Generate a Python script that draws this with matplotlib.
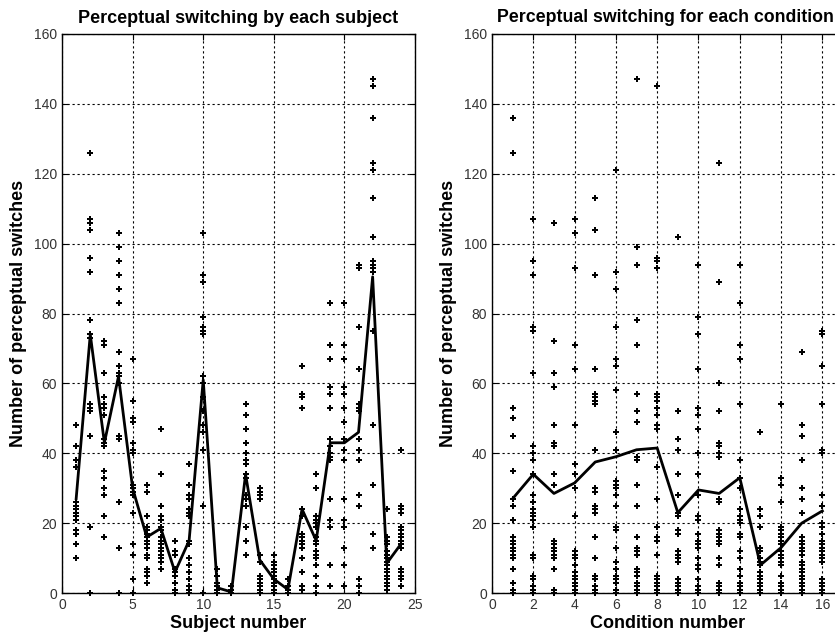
import matplotlib
matplotlib.use('Agg')
import matplotlib.pyplot as plt

# per-subject switch counts (16 conditions each)
SUBJECT_VALUES = [
    [48, 42, 38, 36, 26, 25, 24, 23, 22, 22, 21, 18, 17, 17, 14, 10],
    [126, 107, 106, 104, 96, 92, 78, 74, 73, 54, 53, 52, 45, 19, 0, 74],
    [72, 71, 63, 56, 54, 53, 51, 44, 43, 42, 35, 33, 30, 28, 22, 16],
    [103, 99, 95, 91, 87, 83, 69, 65, 63, 62, 60, 45, 44, 26, 13, 0],
    [67, 55, 50, 49, 43, 41, 40, 31, 30, 29, 28, 23, 14, 11, 4, 0],
    [31, 29, 22, 19, 18, 17, 16, 15, 14, 13, 11, 10, 7, 6, 5, 3],
    [47, 34, 25, 22, 21, 19, 18, 16, 15, 14, 13, 12, 11, 10, 9, 7],
    [15, 12, 12, 11, 7, 6, 5, 3, 3, 1, 1, 0, 0, 0, 0, 0],
    [37, 31, 28, 27, 24, 23, 22, 15, 14, 10, 8, 6, 4, 2, 1, 0],
    [103, 91, 89, 79, 76, 75, 74, 62, 60, 56, 52, 48, 46, 41, 25, 0],
    [7, 5, 3, 3, 2, 2, 1, 1, 1, 0, 0, 0, 0, 0, 0, 0],
    [2, 1, 1, 0, 0, 0, 0, 0, 0, 0, 0, 0, 0, 0, 0, 0],
    [54, 51, 47, 43, 40, 40, 38, 37, 34, 33, 28, 27, 25, 19, 15, 11],
    [30, 29, 28, 27, 11, 9, 9, 5, 4, 4, 3, 3, 2, 1, 0, 0],
    [11, 9, 8, 7, 6, 6, 5, 4, 3, 2, 2, 1, 1, 0, 0, 0],
    [4, 2, 1, 1, 0, 0, 0, 0, 0, 0, 0, 0, 0, 0, 0, 0],
    [65, 57, 56, 53, 24, 22, 17, 16, 15, 14, 13, 13, 10, 6, 2, 1],
    [34, 30, 22, 21, 20, 19, 16, 15, 14, 12, 11, 10, 8, 5, 2, 0],
    [83, 71, 67, 59, 57, 53, 44, 42, 40, 39, 38, 27, 21, 19, 8, 2],
    [83, 71, 67, 59, 57, 53, 49, 44, 41, 38, 27, 21, 19, 13, 8, 2],
    [94, 93, 76, 64, 54, 53, 52, 44, 41, 38, 28, 25, 4, 2, 0, 93],
    [147, 145, 136, 123, 121, 113, 102, 95, 94, 93, 92, 75, 48, 31, 17, 13],
    [24, 16, 15, 14, 12, 11, 10, 9, 8, 7, 6, 5, 4, 3, 2, 1],
    [41, 25, 24, 23, 19, 18, 17, 16, 15, 14, 13, 7, 6, 5, 4, 2],
]
SUBJECT_MEANS = [27, 74, 43, 62, 30, 16, 18.5, 6, 15, 61, 1.5, 0.3,
                 34, 9.5, 4, 1, 24, 15, 43, 43, 46, 90.5, 8.5, 14]

# per-condition switch counts (24 subjects each)
CONDITION_VALUES = [
    [136, 126, 53, 50, 45, 35, 27, 25, 21, 16, 16, 15, 14, 14, 13, 12, 12, 11, 10, 7, 3, 1, 0, 0],
    [107, 95, 91, 76, 75, 63, 42, 40, 38, 34, 28, 26, 24, 23, 22, 21, 19, 11, 10, 5, 4, 2, 1, 0],
    [106, 72, 63, 59, 48, 43, 42, 34, 31, 15, 15, 14, 14, 13, 13, 12, 11, 11, 10, 7, 1, 0, 0, 0],
    [107, 103, 93, 71, 64, 48, 37, 34, 30, 22, 12, 11, 10, 8, 6, 6, 5, 4, 3, 2, 1, 1, 0, 0],
    [113, 104, 91, 64, 57, 56, 55, 54, 41, 30, 29, 25, 24, 23, 16, 10, 5, 4, 2, 2, 1, 1, 0, 0],
    [121, 92, 87, 76, 67, 65, 58, 46, 41, 32, 31, 30, 28, 25, 19, 18, 13, 9, 7, 5, 4, 3, 1, 0],
    [147, 99, 94, 78, 71, 57, 52, 49, 39, 38, 31, 25, 16, 13, 12, 11, 7, 6, 5, 3, 2, 1, 0, 0],
    [145, 96, 95, 93, 57, 56, 55, 53, 51, 48, 47, 36, 27, 19, 16, 15, 11, 5, 4, 3, 2, 1, 0, 0],
    [102, 52, 44, 41, 34, 28, 23, 22, 18, 17, 17, 12, 11, 10, 9, 4, 3, 2, 1, 0, 0, 0, 0, 0],
    [94, 79, 74, 64, 53, 51, 47, 40, 34, 28, 22, 21, 17, 15, 14, 13, 10, 8, 7, 4, 2, 1, 0, 0],
    [123, 89, 60, 52, 43, 42, 40, 39, 27, 26, 18, 17, 16, 15, 14, 10, 8, 3, 2, 2, 1, 1, 0, 0],
    [94, 83, 71, 67, 54, 38, 33, 30, 24, 22, 21, 20, 17, 16, 12, 10, 7, 5, 3, 2, 1, 0, 0, 0],
    [46, 24, 22, 19, 13, 12, 10, 9, 8, 6, 5, 4, 3, 2, 2, 1, 1, 1, 0, 0, 0, 0, 0, 0],
    [54, 33, 31, 26, 19, 18, 17, 16, 15, 14, 12, 11, 10, 9, 8, 5, 3, 2, 2, 1, 1, 0, 0, 0],
    [69, 48, 45, 38, 30, 27, 23, 16, 15, 14, 13, 12, 11, 9, 8, 7, 6, 5, 4, 3, 2, 1, 0, 0],
    [75, 74, 65, 54, 41, 40, 28, 25, 20, 19, 17, 15, 14, 13, 12, 11, 10, 9, 4, 3, 2, 1, 0, 0],
]
CONDITION_MEANS = [27, 34, 28.5, 31.5, 37.5, 39, 41, 41.5, 23, 29.5,
                   28.5, 33, 8, 13, 20, 23.5]


def style_axes(ax):
    ax.grid(True, color='black', linestyle=(0, (2, 2.5)), linewidth=0.8)
    ax.tick_params(direction='in', top=True, right=True, labelsize=10,
                   labelcolor='#333333', length=4)
    for sp in ax.spines.values():
        sp.set_linewidth(1.0)
    ax.set_ylim(0, 160)
    ax.set_yticks(range(0, 161, 20))
    ax.set_ylabel('Number of perceptual switches', fontsize=13, fontweight='bold', labelpad=5)


def draw_points(ax, groups):
    for i, vals in enumerate(groups):
        ax.plot([i + 1] * len(vals), vals, linestyle='none', marker='P',
                markersize=3.8, color='black', markeredgewidth=0, clip_on=False)


def main():
    plt.rcParams['font.family'] = ['Liberation Sans', 'DejaVu Sans']
    fig = plt.figure(figsize=(8.35, 6.4), dpi=100)

    ax1 = fig.add_axes([0.0743, 0.0734, 0.4227, 0.8735])
    draw_points(ax1, SUBJECT_VALUES)
    ax1.plot(range(1, len(SUBJECT_MEANS) + 1), SUBJECT_MEANS, color='black', linewidth=2)
    ax1.set_xlim(0, 25)
    ax1.set_xticks(range(0, 26, 5))
    style_axes(ax1)
    ax1.set_xlabel('Subject number', fontsize=13, fontweight='bold', labelpad=2)
    ax1.set_title('Perceptual switching by each subject', fontsize=13, fontweight='bold', pad=8)

    # right panel runs past the figure edge, as in the original screenshot
    ax2 = fig.add_axes([0.5892, 0.0734, 0.4204, 0.8735])
    draw_points(ax2, CONDITION_VALUES)
    ax2.plot(range(1, len(CONDITION_MEANS) + 1), CONDITION_MEANS, color='black', linewidth=2)
    ax2.set_xlim(0, 17)
    ax2.set_xticks(range(0, 17, 2))
    style_axes(ax2)
    ax2.set_xlabel('Condition number', fontsize=13, fontweight='bold', labelpad=2)
    # title placed from the left so it stays inside the canvas
    ax2.text(0.015, 1.0 + 8 / 559, 'Perceptual switching for each condition',
             transform=ax2.transAxes, fontsize=12.8, fontweight='bold',
             ha='left', va='bottom')

    fig.savefig('out.png', dpi=100)


if __name__ == '__main__':
    main()
